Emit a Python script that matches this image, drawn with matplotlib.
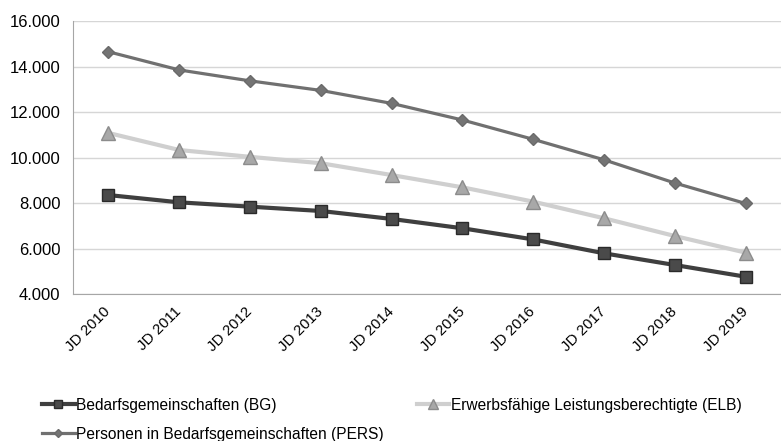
import matplotlib.pyplot as plt
from matplotlib.ticker import FuncFormatter

plt.rcParams['font.family'] = ['Liberation Sans', 'DejaVu Sans']

# Jahresdurchschnitte 2010-2019
jahre = ["JD 2010", "JD 2011", "JD 2012", "JD 2013", "JD 2014",
         "JD 2015", "JD 2016", "JD 2017", "JD 2018", "JD 2019"]
bg = [8350, 8030, 7840, 7650, 7300, 6890, 6400, 5790, 5275, 4760]
elb = [11080, 10330, 10030, 9750, 9230, 8690, 8060, 7330, 6550, 5820]
pers = [14650, 13850, 13370, 12950, 12380, 11650, 10800, 9900, 8880, 7980]

fig = plt.figure(figsize=(7.81, 4.41), dpi=100)
ax = fig.add_axes([0.0935, 0.3333, 0.9065, 0.619])

x = range(len(jahre))
l_bg, = ax.plot(x, bg, color="#3f3f3f", lw=3, marker="s", ms=9,
                mfc="#4a4a4a", mec="#2a2a2a", label="Bedarfsgemeinschaften (BG)")
l_elb, = ax.plot(x, elb, color="#cfcfcf", lw=3, marker="^", ms=10,
                 mfc="#a8a8a8", mec="#8c8c8c", label="Erwerbsfähige Leistungsberechtigte (ELB)")
l_pers, = ax.plot(x, pers, color="#707070", lw=2.3, marker="D", ms=6,
                  mfc="#747474", mec="#6a6a6a", label="Personen in Bedarfsgemeinschaften (PERS)")

ax.set_xlim(-0.5, len(jahre) - 0.5)
ax.set_ylim(4000, 16000)
ax.set_yticks(range(4000, 16001, 2000))
ax.yaxis.set_major_formatter(FuncFormatter(lambda v, p: f"{int(v):,}".replace(",", ".")))
ax.set_xticks(list(x))
ax.set_xticklabels(jahre, rotation=45, ha="right", va="center",
                   rotation_mode="anchor", fontsize=10.8)
ax.tick_params(axis="y", labelsize=12, length=0, pad=9)
ax.tick_params(axis="x", length=0, pad=11)

ax.grid(axis="y", color="#d6d6d6", lw=1)
ax.set_axisbelow(True)
for s in ["top", "right"]:
    ax.spines[s].set_visible(False)
ax.spines["left"].set_color("#a6a6a6")
ax.spines["bottom"].set_color("#a6a6a6")

fig.legend(handles=[l_bg, l_pers, l_elb], ncol=2, frameon=False,
           loc="upper left", bbox_to_anchor=(0.036, 0.13),
           fontsize=11.2, handlelength=2.1, handletextpad=0.1,
           markerscale=0.65, columnspacing=2.1, labelspacing=0.9)

fig.savefig("out.png", dpi=100)
